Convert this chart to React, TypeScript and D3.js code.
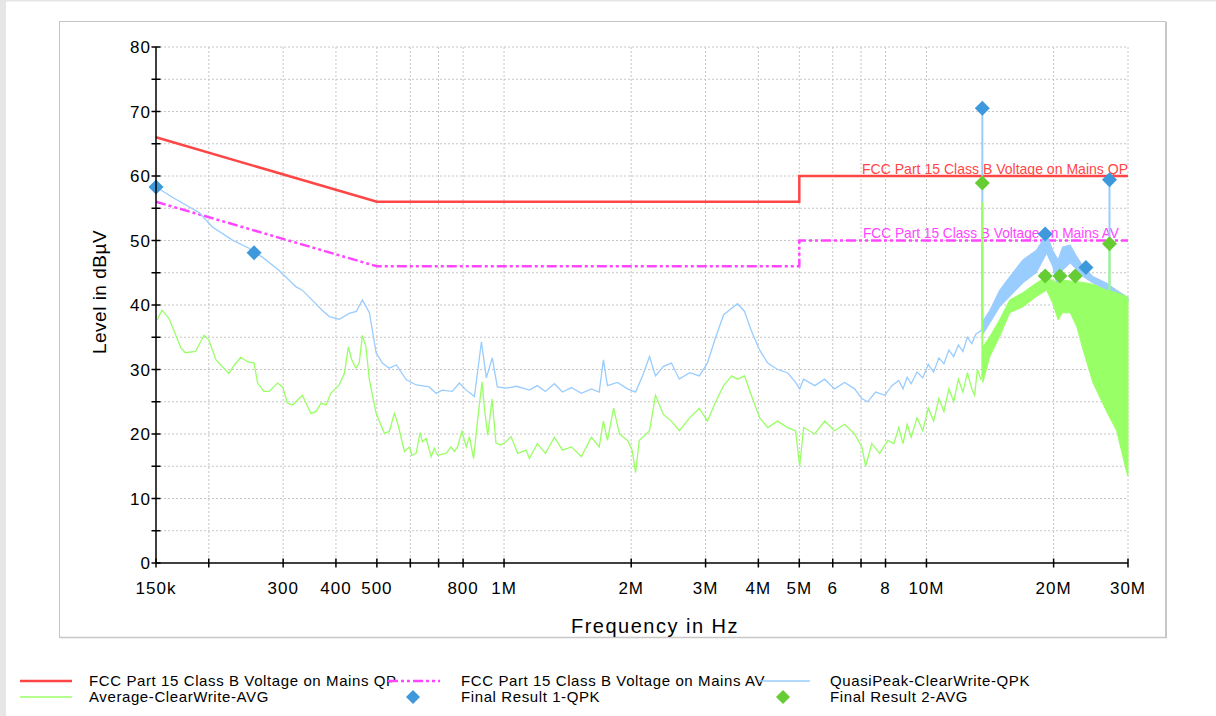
import React from "react";
import * as d3 from "d3";

const W = 1216;
const H = 716;
const plot = { left: 156, top: 47, right: 1128, bottom: 563 };

// x axis (MHz) ticks and labels
const xTicks = [0.15, 0.2, 0.3, 0.4, 0.5, 0.6, 0.7, 0.8, 1, 2, 3, 4, 5, 6, 7, 8, 10, 20, 30];
const xTickLabels = ["150k", "", "300", "400", "500", "", "", "800", "1M", "2M", "3M", "4M", "5M", "6", "", "8", "10M", "20M", "30M"];
const yTicks = [0, 10, 20, 30, 40, 50, 60, 70, 80];
const yMinor = [5, 15, 25, 35, 45, 55, 65, 75];

// limit lines [MHz, dBuV]
const qpLimit = [[0.15, 66], [0.5, 56], [5, 56], [5, 60], [30, 60]];
const avLimit = [[0.15, 56], [0.5, 46], [5, 46], [5, 50], [30, 50]];

// QuasiPeak trace [MHz, dBuV]
const qpkTrace = [
  [0.15, 58.3], [0.164, 56.7], [0.19, 54.3], [0.204, 52.1], [0.227, 50.1], [0.249, 48.8], [0.256, 48.0],
  [0.267, 47.5], [0.293, 45.4], [0.322, 42.8], [0.333, 42.3], [0.351, 40.8], [0.371, 39.2], [0.386, 38.2],
  [0.407, 37.8], [0.43, 38.7], [0.447, 39.0], [0.462, 40.8], [0.48, 38.8], [0.498, 32.6], [0.515, 31.0],
  [0.535, 30.2], [0.556, 30.7], [0.587, 28.4], [0.62, 27.6], [0.665, 27.3], [0.691, 26.3], [0.714, 26.8],
  [0.754, 26.6], [0.784, 27.9], [0.814, 26.8], [0.851, 25.8], [0.884, 34.3], [0.908, 28.7], [0.938, 31.8],
  [0.964, 27.3], [1.013, 27.1], [1.07, 27.4], [1.148, 26.8], [1.199, 27.5], [1.253, 26.6], [1.316, 27.8],
  [1.375, 26.5], [1.444, 27.2], [1.524, 26.3], [1.61, 27.0], [1.68, 26.5], [1.719, 31.5], [1.757, 27.5],
  [1.856, 28.0], [1.96, 27.0], [2.048, 26.5], [2.127, 29.0], [2.21, 32.0], [2.283, 29.0], [2.385, 30.5],
  [2.49, 31.0], [2.6, 28.5], [2.75, 29.5], [2.9, 29.0], [3.03, 31.0], [3.17, 35.0], [3.31, 38.5],
  [3.46, 39.5], [3.57, 40.2], [3.71, 39.0], [3.85, 36.0], [4.03, 33.0], [4.21, 31.0], [4.44, 30.0],
  [4.69, 29.5], [4.9, 28.0], [5.01, 27.0], [5.12, 28.5], [5.44, 27.5], [5.74, 28.5], [6.06, 27.0],
  [6.4, 28.0], [6.76, 27.0], [7.03, 25.5], [7.26, 25.0], [7.58, 26.5], [7.97, 26.0], [8.28, 27.5],
  [8.6, 28.3], [8.8, 27], [9.0, 28.8], [9.2, 27.8], [9.5, 29.6], [9.8, 28.7], [10.1, 30.8], [10.4, 29.6],
  [10.7, 31.8], [11.0, 30.9], [11.3, 33], [11.6, 32], [11.9, 33.8], [12.2, 32.8], [12.5, 35], [12.8, 34],
  [13.1, 35.5], [13.45, 36], [13.6, 36.5],
];

// Average trace [MHz, dBuV]
const avgTrace = [
  [0.151, 37.7], [0.155, 39.2], [0.161, 37.9], [0.172, 33.3], [0.176, 32.6], [0.186, 32.8], [0.195, 35.3],
  [0.2, 34.6], [0.208, 31.5], [0.223, 29.4], [0.23, 30.7], [0.238, 31.9], [0.247, 31.2], [0.256, 31.0],
  [0.261, 27.9], [0.27, 26.6], [0.278, 26.6], [0.291, 27.9], [0.299, 27.3], [0.307, 24.8], [0.316, 24.5],
  [0.333, 26.0], [0.349, 23.2], [0.359, 23.5], [0.369, 24.8], [0.379, 24.5], [0.389, 26.3], [0.407, 27.6],
  [0.419, 29.4], [0.428, 33.5], [0.436, 31.5], [0.446, 30.2], [0.454, 31.0], [0.462, 35.3], [0.471, 33.5],
  [0.48, 28.4], [0.498, 23.2], [0.521, 20.1], [0.535, 20.4], [0.55, 23.2], [0.56, 21.7], [0.581, 17.3],
  [0.597, 18.0], [0.605, 16.7], [0.619, 17.0], [0.633, 20.2], [0.641, 18.8], [0.654, 19.3], [0.672, 16.5],
  [0.684, 17.8], [0.696, 16.7], [0.729, 17.0], [0.749, 18.0], [0.763, 17.3], [0.776, 18.0], [0.795, 20.4],
  [0.814, 18.0], [0.828, 19.6], [0.847, 16.2], [0.866, 22.2], [0.887, 28.1], [0.898, 24.2], [0.915, 19.8],
  [0.937, 25.4], [0.957, 18.6], [0.984, 18.3], [1.01, 18.8], [1.039, 19.6], [1.077, 17.0], [1.128, 17.5],
  [1.148, 16.2], [1.199, 18.5], [1.253, 17.0], [1.316, 19.5], [1.375, 17.5], [1.444, 18.0], [1.524, 16.5],
  [1.61, 19.5], [1.68, 18.0], [1.719, 22.0], [1.757, 19.0], [1.817, 24.0], [1.876, 20.0], [1.96, 19.0],
  [2.01, 17.5], [2.048, 14.0], [2.09, 19.0], [2.21, 20.5], [2.283, 26.0], [2.385, 23.0], [2.49, 22.0],
  [2.6, 20.5], [2.75, 22.5], [2.9, 24.0], [3.03, 22.0], [3.17, 25.0], [3.31, 27.5], [3.46, 29.0],
  [3.57, 28.5], [3.71, 29.0], [3.85, 26.0], [4.03, 22.5], [4.21, 21.0], [4.44, 22.0], [4.69, 21.0],
  [4.9, 20.5], [5.01, 15.0], [5.12, 21.0], [5.44, 20.0], [5.74, 22.0], [6.06, 20.5], [6.4, 21.5],
  [6.76, 20.0], [7.03, 18.0], [7.18, 15.0], [7.42, 18.5], [7.75, 17.0], [8.1, 19.0], [8.37, 18.5],
  [8.6, 21], [8.8, 18.5], [9.0, 21.5], [9.2, 19.5], [9.5, 22.5], [9.8, 20.5], [10.1, 24], [10.4, 22],
  [10.7, 25.5], [11.0, 23.5], [11.3, 27], [11.6, 25], [11.9, 28.5], [12.2, 26.5], [12.5, 29.5], [12.8, 27],
  [13.0, 26], [13.2, 30], [13.45, 28.5], [13.6, 29],
];

// dense part of the scan above 13.6 MHz: [MHz, low, high]
const qpkBand = [
  [13.6, 35.5, 37.5], [14.13, 37.2, 39.2], [14.9, 39.7, 42.3], [15.75, 41.3, 44.4],
  [16.9, 43.4, 47], [18.2, 45, 48.5], [19.25, 48, 51], [19.9, 46, 48.5], [20.5, 42.3, 47], [21.0, 45.4, 49],
  [21.9, 46.5, 49.3], [22.7, 45.5, 47.5], [23.5, 44.4, 46], [24.8, 43.4, 44.4], [26.7, 42.3, 43.4],
  [28.2, 41.8, 42.3], [29.8, 41, 41.3], [30, 40.5, 41.2],
];
const avgBand = [
  [13.6, 28, 33.5], [14.13, 32, 35.1], [14.9, 35.1, 37.7], [15.75, 38.8, 40.8],
  [16.9, 39.7, 41.9], [18.2, 41.3, 43.4], [19.25, 42.3, 44.4], [19.9, 40.3, 43.8], [20.5, 37.7, 43.4],
  [21.0, 38.8, 43.9], [21.9, 38.8, 43.7], [22.7, 36.6, 43.6], [23.5, 33, 43.5], [24.8, 27.9, 43.2],
  [26.7, 23.5, 42.3], [28.2, 20.5, 41.9], [29.8, 14, 41.3], [30, 13.5, 41],
];
// narrow carriers [MHz, qpk top, qpk base, avg top, avg base]
const spikes = [[13.56, 70.5, 36, 56, 29], [27.12, 59.4, 42, 49, 41]];

const qpkResults = [[0.15, 58.3], [0.256, 48.1], [13.56, 70.5], [19.1, 51.0], [23.85, 45.8], [27.12, 59.4]];
const avgResults = [[13.56, 58.9], [19.1, 44.5], [20.7, 44.5], [22.5, 44.5], [27.12, 49.5]];

const RED = "#ff4646";
const MAGENTA = "#ff45ff";
const LBLUE = "#99ccff";
const LGREEN = "#99ff66";
const BLUE = "#3d98dc";
const GREEN = "#66cc33";
const FONT = "'Liberation Sans', Arial, sans-serif";

const x = d3.scaleLog().domain([0.15, 30]).range([plot.left, plot.right]);
const y = d3.scaleLinear().domain([0, 80]).range([plot.bottom, plot.top]);

const line = d3.line<number[]>().x((d) => x(d[0])).y((d) => y(d[1]));
const band = d3
  .area<number[]>()
  .x((d) => x(d[0]))
  .y0((d) => y(d[1]))
  .y1((d) => y(d[2]));

const diamond = (cx: number, cy: number, r: number) =>
  `M${cx},${cy - r}L${cx + r},${cy}L${cx},${cy + r}L${cx - r},${cy}Z`;

const App = () => {
  const legendRows = [
    { y: 681, items: [
      { x: 20, kind: "line", color: RED, dash: "", w: 2.5, label: "FCC Part 15 Class B Voltage on Mains QP" },
      { x: 388, kind: "line", color: MAGENTA, dash: "10,3,3,3,3,3", w: 2.5, label: "FCC Part 15 Class B Voltage on Mains AV" },
      { x: 758, kind: "line", color: LBLUE, dash: "", w: 1.5, label: "QuasiPeak-ClearWrite-QPK" },
    ] },
    { y: 697, items: [
      { x: 20, kind: "line", color: LGREEN, dash: "", w: 1.5, label: "Average-ClearWrite-AVG" },
      { x: 388, kind: "diamond", color: BLUE, dash: "", w: 0, label: "Final Result 1-QPK" },
      { x: 758, kind: "diamond", color: GREEN, dash: "", w: 0, label: "Final Result 2-AVG" },
    ] },
  ];
  const textX = [89, 461, 830];

  return (
    <svg width={W} height={H} style={{ position: "absolute", left: 0, top: 0, background: "#fff" }} fontFamily={FONT}>
      <rect x={0} y={0} width={6} height={H} fill="#e6e6e6" />
      <rect x={0} y={0} width={W} height={1.5} fill="#e6e6e6" />
      {/* frame */}
      <rect x={59.5} y={21.5} width={1106} height={616} fill="#fff" stroke="#c4c4c4" strokeWidth={1} />
      <line x1={1166} y1={22} x2={1166} y2={638} stroke="#c8c8c8" strokeWidth={2} />
      <line x1={60} y1={637.5} x2={1167} y2={637.5} stroke="#c8c8c8" strokeWidth={1.5} />

      {/* grid */}
      <g stroke="#c6c6c6" strokeWidth={1} strokeDasharray="2,2">
        {[...yTicks.slice(1), ...yMinor].map((v) => (
          <line key={"gy" + v} x1={plot.left} x2={plot.right} y1={y(v)} y2={y(v)} />
        ))}
        {xTicks.slice(1).map((v) => (
          <line key={"gx" + v} x1={x(v)} x2={x(v)} y1={plot.top} y2={plot.bottom} />
        ))}
      </g>

      {/* limits */}
      <path d={line(qpLimit) || ""} fill="none" stroke={RED} strokeWidth={2.5} />
      <path d={line(avLimit) || ""} fill="none" stroke={MAGENTA} strokeWidth={2.5} strokeDasharray="10,3,3,3,3,3" />
      <text x={plot.right} y={y(60) - 2} textAnchor="end" fontSize={15} fill={RED} textLength={266} lengthAdjust="spacingAndGlyphs">
        FCC Part 15 Class B Voltage on Mains QP
      </text>
      <text x={1119} y={y(50) - 3} textAnchor="end" fontSize={15} fill={MAGENTA} textLength={256} lengthAdjust="spacingAndGlyphs">
        FCC Part 15 Class B Voltage on Mains AV
      </text>

      {/* traces */}
      <path d={line(qpkTrace) || ""} fill="none" stroke={LBLUE} strokeWidth={1.3} />
      <path d={band(qpkBand) || ""} fill={LBLUE} stroke={LBLUE} strokeWidth={1} />
      {spikes.map((s) => (
        <line key={"sq" + s[0]} x1={x(s[0])} x2={x(s[0])} y1={y(s[1])} y2={y(s[2])} stroke={LBLUE} strokeWidth={2} />
      ))}
      <path d={line(avgTrace) || ""} fill="none" stroke={LGREEN} strokeWidth={1.3} />
      <path d={band(avgBand) || ""} fill={LGREEN} stroke={LGREEN} strokeWidth={1} />
      {spikes.map((s) => (
        <line key={"sa" + s[0]} x1={x(s[0])} x2={x(s[0])} y1={y(s[3])} y2={y(s[4])} stroke={LGREEN} strokeWidth={2} />
      ))}

      {/* final results */}
      {qpkResults.map((d, i) => (
        <path key={"q" + i} d={diamond(x(d[0]), y(d[1]), 7.5)} fill={BLUE} />
      ))}
      {avgResults.map((d, i) => (
        <path key={"a" + i} d={diamond(x(d[0]), y(d[1]), 7.5)} fill={GREEN} />
      ))}

      {/* axes */}
      <g stroke="#000" strokeWidth={1.5}>
        <line x1={plot.left} x2={plot.left} y1={plot.top} y2={plot.bottom} />
        <line x1={plot.left} x2={plot.right} y1={plot.bottom} y2={plot.bottom} />
        {[...yTicks, ...yMinor].map((v) => (
          <line key={"ty" + v} x1={plot.left - 4.5} x2={plot.left + 4.5} y1={y(v)} y2={y(v)} />
        ))}
        {xTicks.map((v) => (
          <line key={"tx" + v} x1={x(v)} x2={x(v)} y1={plot.bottom - 4.5} y2={plot.bottom + 4.5} />
        ))}
      </g>
      {yTicks.map((v) => (
        <text key={"ly" + v} x={plot.left - 5} y={y(v) + 6} textAnchor="end" fontSize={17} letterSpacing={1}>
          {v}
        </text>
      ))}
      {xTicks.map((v, i) => (
        <text key={"lx" + v} x={x(v)} y={594} textAnchor="middle" fontSize={17} letterSpacing={1}>
          {xTickLabels[i]}
        </text>
      ))}
      <text x={655} y={633} textAnchor="middle" fontSize={20} letterSpacing={1.5}>
        Frequency in Hz
      </text>
      <text transform="translate(106,292) rotate(-90)" textAnchor="middle" fontSize={19} letterSpacing={0.5}>
        Level in dBµV
      </text>

      {/* legend */}
      {legendRows.map((row, ri) =>
        row.items.map((it, ii) => (
          <g key={`lg${ri}-${ii}`}>
            {it.kind === "line" ? (
              <line x1={it.x} x2={it.x + 52} y1={row.y} y2={row.y} stroke={it.color} strokeWidth={it.w} strokeDasharray={it.dash} />
            ) : (
              <path d={diamond(it.x + 25, row.y, 7)} fill={it.color} />
            )}
            <text x={textX[ii]} y={row.y + 5} fontSize={15} letterSpacing={0.6}>
              {it.label}
            </text>
          </g>
        ))
      )}
    </svg>
  );
};

export default App;
